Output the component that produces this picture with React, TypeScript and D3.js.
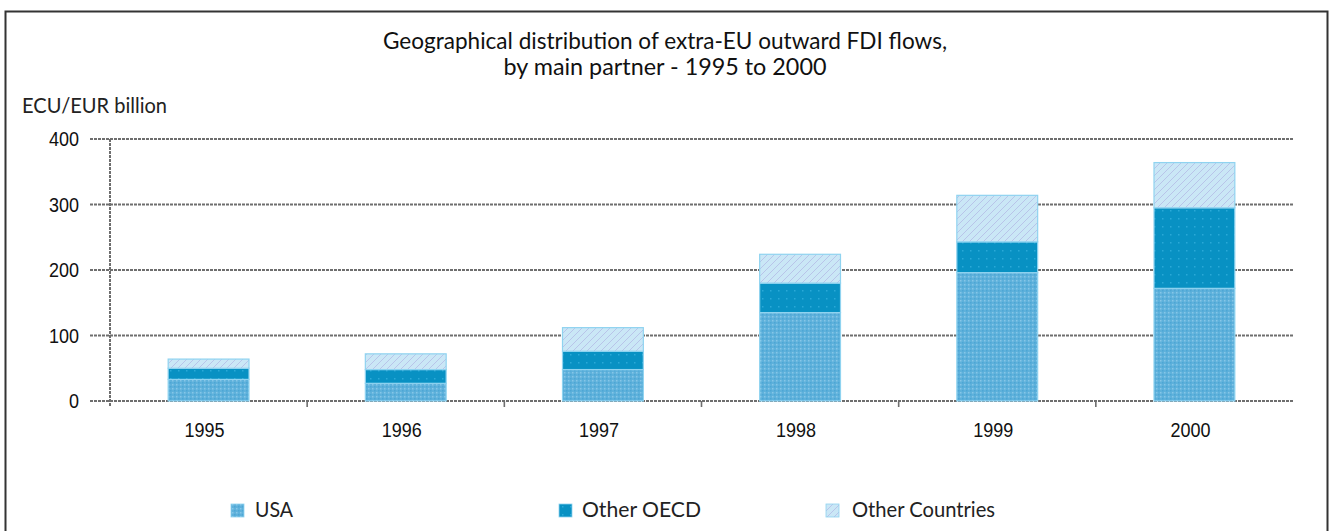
import React from "react";
import * as d3 from "d3";

const years = ["1995", "1996", "1997", "1998", "1999", "2000"];
const usa = [33, 27, 48, 135, 196, 172];
const otherOECD = [17, 21, 28, 45, 47, 123];
const otherCountries = [14, 24, 36, 44, 71, 69];
const seriesNames = ["USA", "Other OECD", "Other Countries"];
const yTicks = [0, 100, 200, 300, 400];
const titleLines = [
  "Geographical distribution of extra-EU outward FDI flows,",
  "by main partner - 1995 to 2000",
];
const yLabel = "ECU/EUR billion";

const W = 1332;
const H = 531;
const margin = { left: 110, right: 39 };

export default function App() {
  const x = d3
    .scaleBand<string>()
    .domain(years)
    .range([margin.left, W - margin.right])
    .paddingInner(0.59)
    .paddingOuter(0.295);
  const y = d3.scaleLinear().domain([0, 400]).range([401, 139]);

  const rows = years.map((yr, i) => ({
    year: yr,
    USA: usa[i],
    "Other OECD": otherOECD[i],
    "Other Countries": otherCountries[i],
  }));
  const stack = d3.stack<any>().keys(seriesNames);
  const layers = stack(rows);
  const fills = ["url(#pUSA)", "url(#pOECD)", "url(#pOther)"];

  const step = x.step();
  const x0 = margin.left;
  const x1 = W - margin.right;

  const legendItems = [
    { name: seriesNames[0], sx: 231, tx: 255, tw: 38 },
    { name: seriesNames[1], sx: 559, tx: 582, tw: 119 },
    { name: seriesNames[2], sx: 826, tx: 852, tw: 143 },
  ];

  const futura = "Lato, 'Open Sans', sans-serif";
  const arial = "'Liberation Sans', Arial, sans-serif";
  const gridColor = "#6e6e6e";

  const stretched = (tx: number, ty: number) =>
    `translate(${tx},${ty}) scale(1,1.15)`;

  return (
    <svg
      width={W}
      height={H}
      style={{ position: "absolute", left: 0, top: 0, background: "#fff" }}
    >
      <defs>
        <pattern id="pUSA" width="4" height="4" patternUnits="userSpaceOnUse">
          <rect width="4" height="4" fill="#5eb1db" />
          <rect x="0" y="0" width="1.5" height="1.5" fill="#86c6e8" />
          <rect x="2" y="2" width="1.5" height="1.5" fill="#4ca6d5" />
        </pattern>
        <pattern id="pOECD" width="8" height="8" patternUnits="userSpaceOnUse">
          <rect width="8" height="8" fill="#0891c3" />
          <rect x="2" y="2" width="1.5" height="1.5" fill="#2aa9d8" />
        </pattern>
        <pattern id="pOther" width="7" height="7" patternUnits="userSpaceOnUse">
          <rect width="7" height="7" fill="#cae7f6" />
          <path d="M0,7 L7,0" stroke="#b6bfe8" strokeWidth="0.9" />
        </pattern>
      </defs>

      {/* frame */}
      <rect x={5.5} y={11.5} width={1322} height={530} fill="none" stroke="#333" strokeWidth={2} />

      {/* title */}
      {titleLines.map((t, i) => (
        <text
          key={i}
          transform={stretched(665, 49 + i * 26)}
          textAnchor="middle"
          fontFamily={futura}
          fontSize={20}
          fill="#111"
          textLength={i === 0 ? 564 : 323}
          lengthAdjust="spacingAndGlyphs"
        >
          {t}
        </text>
      ))}

      {/* y label */}
      <text
        transform={stretched(22, 113)}
        fontFamily={futura}
        fontSize={18}
        fill="#222"
        textLength={145}
        lengthAdjust="spacingAndGlyphs"
      >
        {yLabel}
      </text>

      {/* gridlines */}
      {yTicks.map((t) => (
        <g key={t}>
          <line
            x1={90}
            x2={x1}
            y1={y(t)}
            y2={y(t)}
            stroke={gridColor}
            strokeWidth={2}
            strokeDasharray="3,1"
          />
          <text
            transform={stretched(79, y(t) + 7)}
            textAnchor="end"
            fontFamily={arial}
            fontSize={18}
            fill="#111"
          >
            {t}
          </text>
        </g>
      ))}

      {/* y axis */}
      <line
        x1={x0}
        x2={x0}
        y1={y(400)}
        y2={407}
        stroke={gridColor}
        strokeWidth={2}
        strokeDasharray="3,1"
      />
      {years.slice(1).map((_, i) => (
        <line
          key={i}
          x1={x0 + step * (i + 1)}
          x2={x0 + step * (i + 1)}
          y1={y(0)}
          y2={407}
          stroke={gridColor}
          strokeWidth={1.6}
        />
      ))}

      {/* bars */}
      {layers.map((layer, li) => (
        <g key={li}>
          {layer.map((d, i) => (
            <rect
              key={i}
              x={x(years[i])!}
              y={y(d[1])}
              width={x.bandwidth()}
              height={y(d[0]) - y(d[1])}
              fill={fills[li]}
              stroke="#8fd3f0"
              strokeWidth={1.2}
            />
          ))}
        </g>
      ))}

      {/* x labels */}
      {years.map((yr) => (
        <text
          key={yr}
          transform={stretched(x(yr)! + x.bandwidth() / 2 - 4, 437)}
          textAnchor="middle"
          fontFamily={arial}
          fontSize={18}
          fill="#111"
        >
          {yr}
        </text>
      ))}

      {/* legend */}
      {legendItems.map((it, i) => (
        <g key={it.name}>
          <rect x={it.sx} y={504} width={13} height={13} fill={fills[i]} stroke="#8fd3f0" strokeWidth={0.8} />
          <text
            transform={stretched(it.tx, 517)}
            fontFamily={futura}
            fontSize={18}
            fill="#222"
            textLength={it.tw}
            lengthAdjust="spacingAndGlyphs"
          >
            {it.name}
          </text>
        </g>
      ))}
    </svg>
  );
}
